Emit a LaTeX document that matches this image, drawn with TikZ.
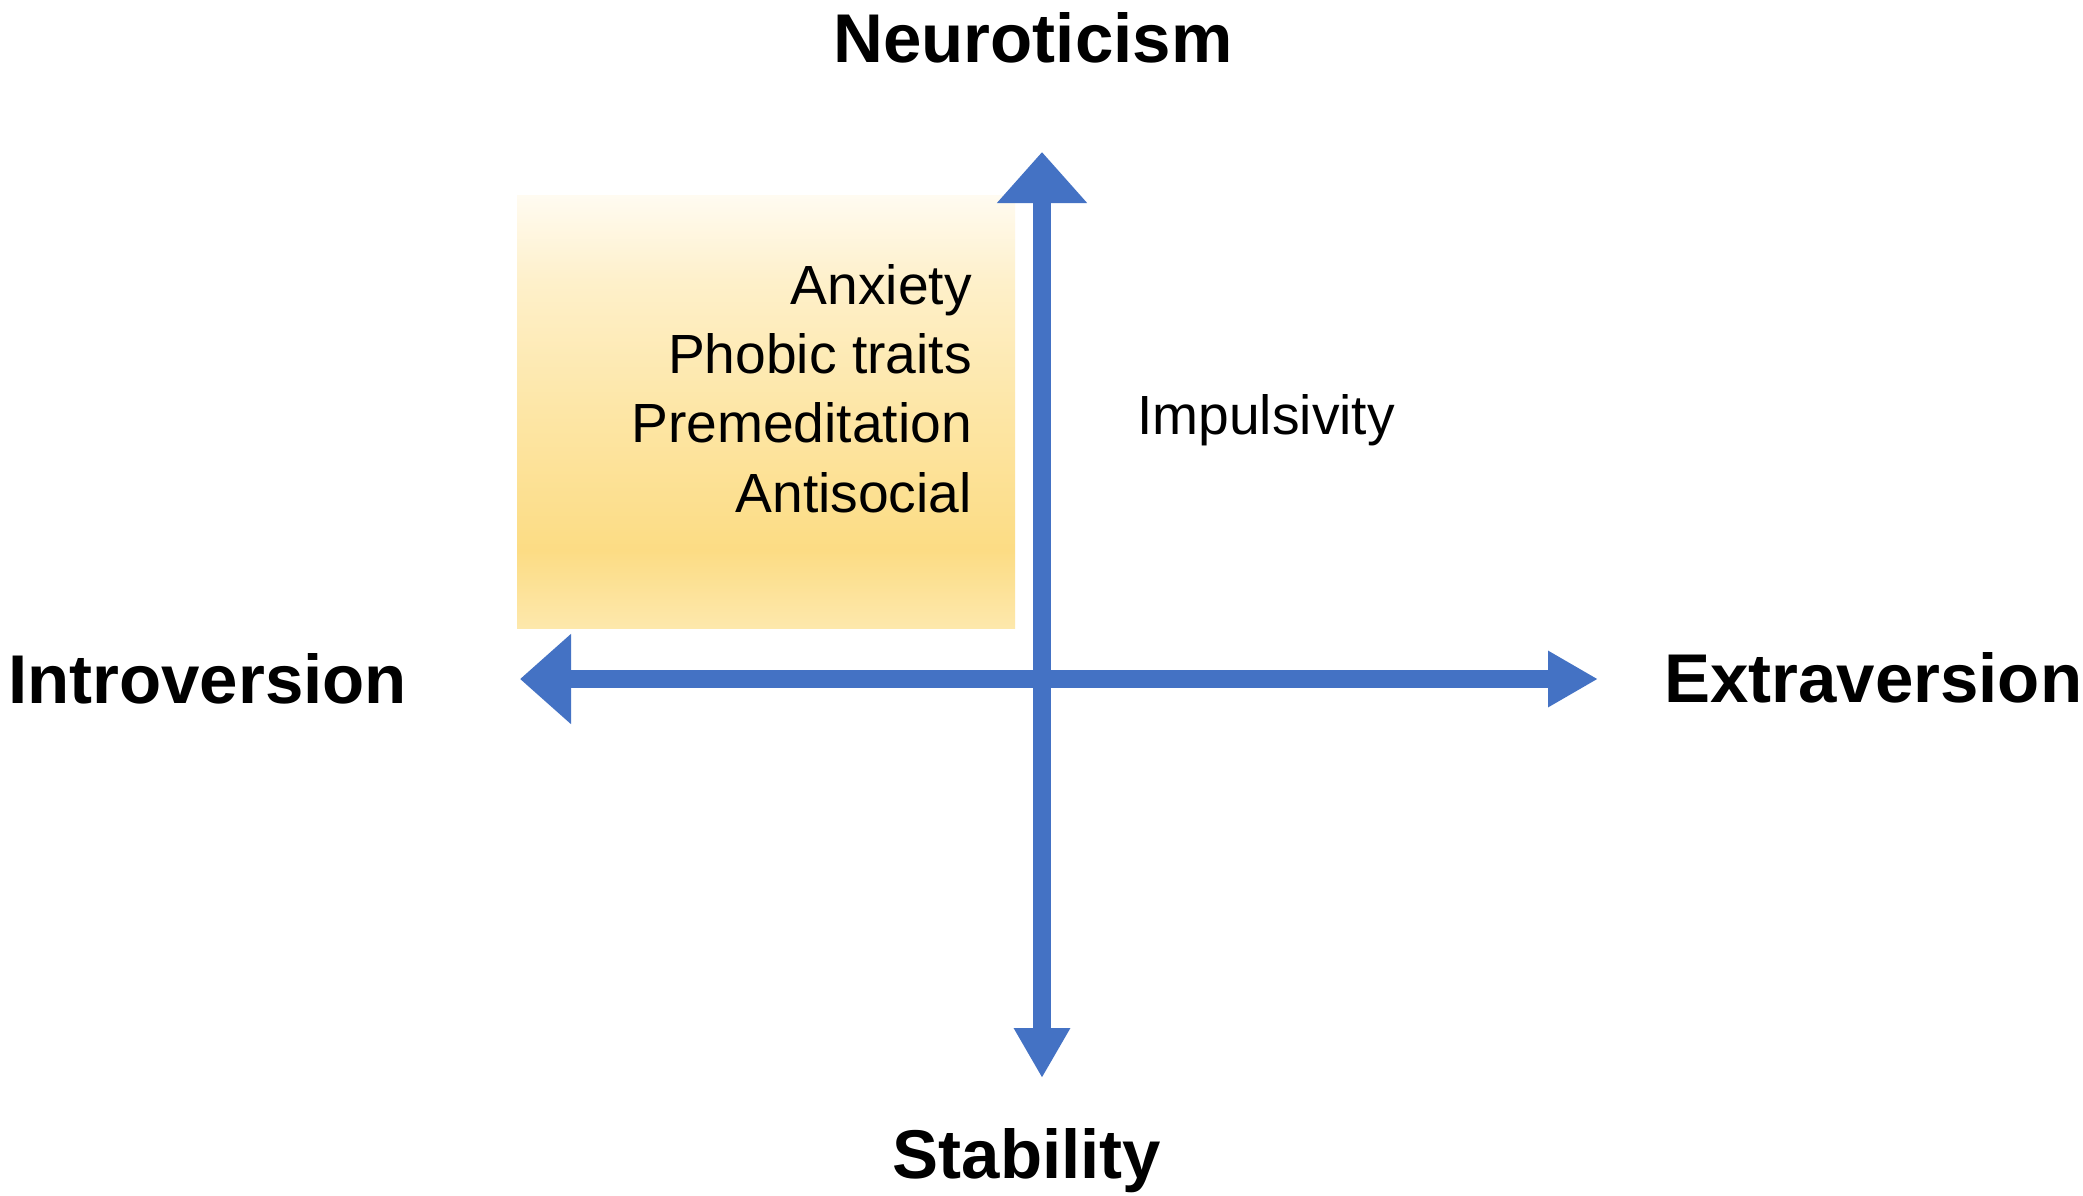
\documentclass[tikz,border=0pt]{standalone}
\usepackage{fontspec}
\setmainfont{Liberation Sans}
\usetikzlibrary{arrows.meta}
\definecolor{axisblue}{HTML}{4472C4}
\definecolor{boxtop}{HTML}{FFFBF1}
\definecolor{boxupper}{HTML}{FEF0CA}
\definecolor{boxmid}{HTML}{FDE6A6}
\definecolor{boxpeak}{HTML}{FCDC84}
\definecolor{boxbottom}{HTML}{FDE8AC}
\pgfdeclareverticalshading{boxshade}{100bp}{color(0bp)=(boxbottom); color(25bp)=(boxbottom); color(34bp)=(boxpeak); color(50bp)=(boxmid); color(65bp)=(boxupper); color(75bp)=(boxtop); color(100bp)=(boxtop)}
\tikzset{
  axisline/.style={draw=axisblue, line width=18pt},
  bighead/.tip={Triangle[width=87pt 0 0, length=51pt 0 0]},
  smallhead/.tip={Triangle[width=53pt 0 0, length=50pt 0 0]},
  bigtitle/.style={inner sep=0pt, font=\fontsize{69}{83}\selectfont\bfseries},
  trait/.style={inner sep=0pt, font=\fontsize{55.2}{69}\selectfont},
  quadbox/.style={inner sep=0pt, draw=none, shading=boxshade, minimum width=498pt, minimum height=433pt}
}
\begin{document}
\begin{tikzpicture}[x=1pt,y=-1pt]
\useasboundingbox (0,0) rectangle (2083,1195);
\fill[white] (0,0) rectangle (2083,1195);
\node[quadbox] (box) at (766,411.5) {};
\coordinate (N) at (1042,152);
\coordinate (S) at (1042,1078);
\coordinate (W) at (520,679);
\coordinate (E) at (1598,679);
\draw[axisline, {bighead}-{smallhead}] (W) -- (E);
\draw[axisline, {bighead}-{smallhead}] (N) -- (S);
\node[bigtitle, anchor=base] (neuro) at (1033,62) {Neuroticism};
\node[bigtitle, anchor=base] (stab) at (1027,1178) {Stability};
\node[bigtitle, anchor=base west] (intro) at (8,703) {Introversion};
\node[bigtitle, anchor=base west] (extra) at (1664,702) {Extraversion};
\node[trait, anchor=base west] (impuls) at (1137,434) {Impulsivity};
\node[trait, anchor=base east] (anx) at (972,304) {Anxiety};
\node[trait, anchor=base east] (phob) at (972,373) {Phobic traits};
\node[trait, anchor=base east] (prem) at (972,442) {Premeditation};
\node[trait, anchor=base east] (anti) at (972,512) {Antisocial};
\end{tikzpicture}
\end{document}
